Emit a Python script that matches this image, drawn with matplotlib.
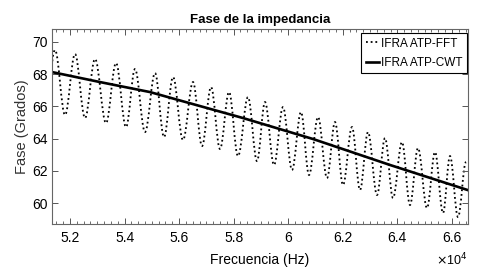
import matplotlib
matplotlib.use('Agg')
import matplotlib.pyplot as plt
from matplotlib.path import Path
from matplotlib.patches import PathPatch
from matplotlib.lines import Line2D
from matplotlib.ticker import AutoMinorLocator

# IFRA ATP-FFT: local maxima / minima of the oscillating phase (Hz, grados)
fftPeakFreq = [51450, 52183, 52916, 53686, 54383, 55116, 55776, 56509, 57169, 57829,
               58525, 59149, 59808, 60468, 61092, 61715, 62338, 62925, 63548, 64171,
               64758, 65381, 65931, 66517]
fftPeakPhase = [69.49, 69.24, 68.93, 68.68, 68.31, 68.06, 67.81, 67.50, 67.19, 66.88,
                66.57, 66.26, 65.95, 65.64, 65.33, 65.02, 64.71, 64.40, 64.03, 63.78,
                63.41, 63.16, 62.91, 62.54]
fftValleyFreq = [51083, 51817, 52550, 53320, 54053, 54749, 55446, 56142, 56839, 57499,
                 58159, 58855, 59479, 60138, 60762, 61422, 62008, 62631, 63255, 63841,
                 64464, 65088, 65674, 66224]
fftValleyPhase = [65.64, 65.46, 65.27, 64.96, 64.71, 64.40, 64.09, 63.91, 63.53, 63.35,
                  62.91, 62.60, 62.36, 62.05, 61.74, 61.55, 61.12, 60.81, 60.50, 60.31,
                  59.88, 59.69, 59.38, 59.13]

# IFRA ATP-CWT
cwtFreq = [51340, 53100, 54933, 56326, 58342, 60908, 63731, 66590]
cwtPhase = [68.12, 67.50, 66.88, 66.22, 65.27, 63.97, 62.36, 60.80]

xTicks = [52000, 54000, 56000, 58000, 60000, 62000, 64000, 66000]
xTickLabels = ['5.2', '5.4', '5.6', '5.8', '6', '6.2', '6.4', '6.6']
yTicks = [60, 62, 64, 66, 68, 70]

narrow = ['Liberation Sans Narrow', 'Liberation Sans']
regular = ['Liberation Sans', 'DejaVu Sans']
plt.rcParams['font.family'] = regular

fig = plt.figure(figsize=(4.79, 2.76), dpi=100)
ax = fig.add_axes([0.1086, 0.1884, 0.8684, 0.7065])

# smooth oscillation through the extrema (valley, peak, valley, ...)
extrema = []
for i in range(len(fftPeakFreq)):
    extrema.append((fftValleyFreq[i], fftValleyPhase[i]))
    extrema.append((fftPeakFreq[i], fftPeakPhase[i]))

k = 0.3634
verts = [extrema[0]]
codes = [Path.MOVETO]
for (x0, y0), (x1, y1) in zip(extrema[:-1], extrema[1:]):
    dx = x1 - x0
    verts += [(x0 + k * dx, y0), (x1 - k * dx, y1), (x1, y1)]
    codes += [Path.CURVE4] * 3

dotStyle = (0, (1, 1.6))
ax.add_patch(PathPatch(Path(verts, codes), facecolor='none', edgecolor='black',
                       linewidth=1.3, linestyle=dotStyle, clip_on=True))
ax.plot(cwtFreq, cwtPhase, color='black', linewidth=1.9)

ax.set_xlim(51340, 66590)
ax.set_ylim(58.7, 70.79)
ax.set_xticks(xTicks)
ax.set_xticklabels(xTickLabels, family=narrow, fontsize=10)
ax.set_yticks(yTicks)
ax.set_yticklabels([str(v) for v in yTicks], family=narrow, fontsize=10)
ax.xaxis.set_minor_locator(AutoMinorLocator(8))

ax.tick_params(which='both', direction='in', top=True, right=True, color='#555555')
ax.tick_params(which='major', length=4, width=0.7)
ax.tick_params(axis='x', which='major', pad=5)
ax.tick_params(axis='y', which='major', pad=3)
ax.tick_params(which='minor', length=2, width=0.6)
for s in ax.spines.values():
    s.set_color('#666666')
    s.set_linewidth(0.8)

ax.set_title('Fase de la impedancia', fontsize=9.5, fontweight='bold', pad=4)
ax.set_xlabel('Frecuencia (Hz)', family=narrow, fontsize=10, labelpad=6)
ax.set_ylabel('Fase (Grados)', fontsize=10.5, labelpad=2, color='#333333')
ax.text(1.0, -0.185, r'$\times$10$^4$', transform=ax.transAxes, ha='right', va='center',
        fontsize=9, family=narrow)

handles = [Line2D([], [], color='black', linewidth=1.3, linestyle=dotStyle),
           Line2D([], [], color='black', linewidth=1.9)]
leg = ax.legend(handles, ['IFRA ATP-FFT', 'IFRA ATP-CWT'], loc='upper right',
                bbox_to_anchor=(0.998, 0.98), handlelength=1.1,
                prop={'family': narrow, 'size': 8.5},
                handletextpad=0.15, borderpad=0.4, labelspacing=0.6,
                fancybox=False, framealpha=1, edgecolor='black', borderaxespad=0)
leg.get_frame().set_linewidth(0.8)

fig.savefig('out.png', dpi=100)
